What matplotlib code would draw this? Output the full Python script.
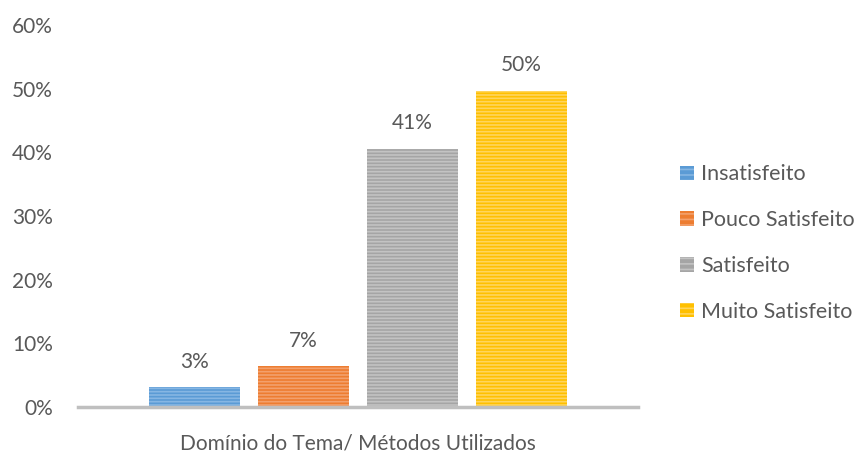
import matplotlib
matplotlib.use("Agg")
import matplotlib.pyplot as plt
from matplotlib.patches import Patch

plt.rcParams['font.family'] = ['Lato', 'DejaVu Sans']
plt.rcParams['hatch.linewidth'] = 1.2

categories = ["Insatisfeito", "Pouco Satisfeito", "Satisfeito", "Muito Satisfeito"]
values = [0.031, 0.064, 0.406, 0.497]
value_labels = ["3%", "7%", "41%", "50%"]
colors = ["#5B9BD5", "#ED7D31", "#A5A5A5", "#FFC000"]
stripe_colors = ["#86B6E3", "#F3A06C", "#C3C3C3", "#FFD55C"]
yticks = [0, 0.1, 0.2, 0.3, 0.4, 0.5, 0.6]
ytick_labels = ["0%", "10%", "20%", "30%", "40%", "50%", "60%"]
xlabel = "Domínio do Tema/ Métodos Utilizados"

W, H = 858, 458
fig = plt.figure(figsize=(W/100, H/100), dpi=100)
ax = fig.add_axes([78/W, 1-407/H, (638-78)/W, (407-25)/H])

text_color = "#595959"
fs = 15
positions = [-1.5, -0.5, 0.5, 1.5]
for p, v, c, sc, lab in zip(positions, values, colors, stripe_colors, value_labels):
    ax.bar(p, v, width=0.83, color=c, edgecolor=sc, hatch="-----", linewidth=0, zorder=2)
    ax.text(p, v + 0.024, lab, ha="center", va="bottom", fontsize=fs, color=text_color)

ax.set_xlim(-2.57, 2.57)
ax.set_ylim(0, 0.6)
ax.set_yticks(yticks)
ax.set_yticklabels(ytick_labels, fontsize=fs, color=text_color)
ax.set_xticks([])
ax.tick_params(axis='y', length=0, pad=18)
for s in ["top", "right", "left"]:
    ax.spines[s].set_visible(False)
ax.spines["bottom"].set_color("#BFBFBF")
ax.spines["bottom"].set_linewidth(2.5)
ax.spines["bottom"].set_zorder(3)

fig.text(358/W, 1-444/H, xlabel, ha="center", va="center", fontsize=fs, color=text_color)

handles = [Patch(facecolor=c, edgecolor=sc, hatch="---", linewidth=0) for c, sc in zip(colors, stripe_colors)]
fig.legend(handles, categories, loc="center left", bbox_to_anchor=(661/W, 1-243/H),
           frameon=False, fontsize=15.5, labelcolor=text_color,
           handlelength=0.65, handleheight=0.65, handletextpad=0.3, labelspacing=1.2)

fig.savefig("out.png", dpi=100)
